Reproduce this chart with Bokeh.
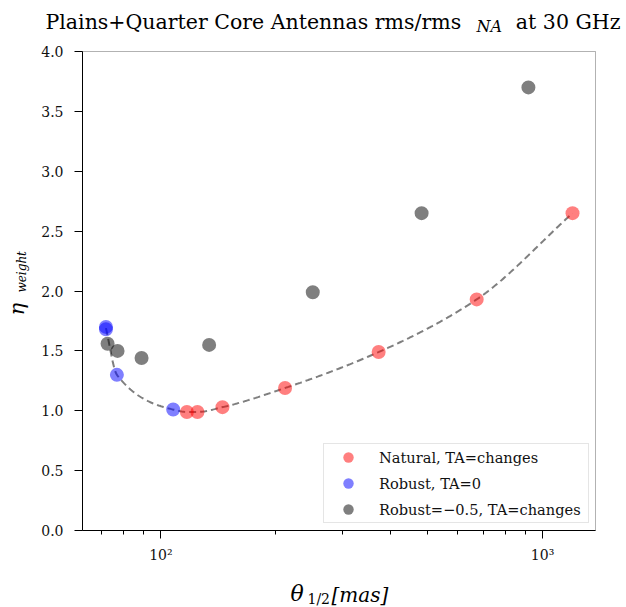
import numpy as np
from bokeh.plotting import figure
from bokeh.models import (Range1d, Label, Legend, LegendItem, SingleIntervalTicker,
                          PrintfTickFormatter, CustomJSTickFormatter, FixedTicker,
                          BoxAnnotation)
from bokeh.embed import file_html
from bokeh.resources import INLINE

# ---- data ----
natural_theta = [117.0, 124.7, 145.0, 211.5, 372.0, 672.0, 1198.0]
natural_eta = [0.99, 0.99, 1.03, 1.19, 1.49, 1.93, 2.65]

robust0_theta = [71.8, 71.8, 76.7, 107.7]
robust0_eta = [1.70, 1.68, 1.30, 1.01]

robustm05_theta = [72.5, 77.0, 89.0, 133.8, 250.0, 482.0, 918.0]
robustm05_eta = [1.56, 1.50, 1.44, 1.55, 1.99, 2.65, 3.70]

# axis limits of the plotted box
x_lim = (62.33, 1376.0)
y_lim = (0.0, 4.0)
x_major_ticks = [100, 1000]
x_minor_ticks = [70, 80, 90, 200, 300, 400, 500, 600, 700, 800, 900]
x_tick_labels = {"2": "10\u00b2", "3": "10\u00b3"}

FONT = "DejaVu Serif"
W, H = 626, 607
BOX_L, BOX_R, BOX_T, BOX_B = 82, 595, 51, 530   # pixel box of the axes


def pchip(xk, yk, xq):
    """Monotone piecewise cubic (Fritsch-Carlson) through the given points."""
    xk = np.asarray(xk, float)
    yk = np.asarray(yk, float)
    h = np.diff(xk)
    d = np.diff(yk) / h
    m = np.zeros_like(yk)
    for i in range(1, len(xk) - 1):
        if d[i - 1] * d[i] > 0:
            w1 = 2 * h[i] + h[i - 1]
            w2 = h[i] + 2 * h[i - 1]
            m[i] = (w1 + w2) / (w1 / d[i - 1] + w2 / d[i])
    m[0] = d[0]
    m[-1] = d[-1]
    idx = np.clip(np.searchsorted(xk, xq) - 1, 0, len(xk) - 2)
    t = (xq - xk[idx]) / h[idx]
    h00 = 2 * t**3 - 3 * t**2 + 1
    h10 = t**3 - 2 * t**2 + t
    h01 = -2 * t**3 + 3 * t**2
    h11 = t**3 - t**2
    return (h00 * yk[idx] + h10 * h[idx] * m[idx] + h01 * yk[idx + 1]
            + h11 * h[idx] * m[idx + 1])


# the frame spans the whole canvas; the axes are drawn at fixed locations so that
# titles and axis labels can be placed freely as real text
lx0, lx1 = np.log10(x_lim[0]), np.log10(x_lim[1])
ppd = (BOX_R - BOX_L) / (lx1 - lx0)
xr = (10 ** (lx0 - BOX_L / ppd), 10 ** (lx1 + (W - BOX_R) / ppd))
ppu = (BOX_B - BOX_T) / (y_lim[1] - y_lim[0])
yr = (y_lim[0] - (H - BOX_B) / ppu, y_lim[1] + BOX_T / ppu)

p = figure(width=W, height=H, x_axis_type="log",
           x_range=Range1d(*xr), y_range=Range1d(*yr),
           output_backend="svg", toolbar_location=None,
           min_border_left=0, min_border_right=0,
           min_border_top=0, min_border_bottom=0)
p.background_fill_color = "white"
p.border_fill_color = "white"
p.grid.visible = False
p.outline_line_color = None

p.add_layout(BoxAnnotation(left=x_lim[0], right=x_lim[1], bottom=y_lim[0], top=y_lim[1],
                           fill_color=None, line_color="black", line_width=1))

# smooth trend curve through the Natural + Robust TA=0 points
all_t = np.array(natural_theta + robust0_theta)
all_e = np.array(natural_eta + robust0_eta)
ut = np.unique(all_t)
ue = np.array([all_e[all_t == t].mean() for t in ut])
lx = np.log10(ut)
xs = np.linspace(lx.min(), lx.max(), 400)
p.line(10 ** xs, pchip(lx, ue, xs), line_color="black", line_alpha=0.5,
       line_width=2, line_dash="7 4")

r1 = p.scatter(natural_theta, natural_eta, size=14, fill_color="red", fill_alpha=0.5,
               line_color=None)
r2 = p.scatter(robust0_theta, robust0_eta, size=14, fill_color="blue", fill_alpha=0.5,
               line_color=None)
r3 = p.scatter(robustm05_theta, robustm05_eta, size=14, fill_color="black", fill_alpha=0.5,
               line_color=None)

legend = Legend(items=[
    LegendItem(label="Natural, TA=changes", renderers=[r1]),
    LegendItem(label="Robust, TA=0", renderers=[r2]),
    LegendItem(label="Robust=\u22120.5, TA=changes", renderers=[r3]),
], location=(323, H - 523))
legend.label_text_font = FONT
legend.label_text_font_size = "14.6px"
legend.label_text_color = "#111111"
legend.border_line_color = "#cccccc"
legend.border_line_width = 1
legend.margin = 0
legend.padding = dict(left=2, right=3, top=0, bottom=0)
legend.spacing = 0
legend.glyph_width = 44
legend.glyph_height = 26
legend.label_standoff = 9
legend.label_width = 206
p.add_layout(legend, "center")

# axes
p.xaxis.fixed_location = y_lim[0]
p.xaxis.bounds = x_lim
p.yaxis.fixed_location = x_lim[0]
p.yaxis.bounds = y_lim
p.xaxis.ticker = FixedTicker(ticks=x_major_ticks, minor_ticks=x_minor_ticks)
p.xaxis.formatter = CustomJSTickFormatter(
    args=dict(labels=x_tick_labels),
    code="const e = Math.round(Math.log10(tick)); return labels[String(e)] || ('10^' + e);")
p.yaxis.ticker = SingleIntervalTicker(interval=0.5, num_minor_ticks=0)
p.yaxis.formatter = PrintfTickFormatter(format="%.1f")
for ax in (p.xaxis, p.yaxis):
    ax.major_label_text_font = FONT
    ax.major_label_text_font_size = "14px"
    ax.major_label_text_color = "#111111"
    ax.axis_line_color = "black"
    ax.major_tick_line_color = "black"
    ax.minor_tick_line_color = "black"
    ax.major_tick_out = 8
    ax.major_tick_in = 0
    ax.minor_tick_out = 4
    ax.minor_tick_in = 0
p.xaxis.major_label_standoff = 8
p.yaxis.major_label_standoff = 11
p.yaxis.minor_tick_line_color = None


def lab(cx, cy, **kw):
    """Text placed at canvas pixel (cx, cy) (baseline point), y measured from top."""
    base = dict(x=cx, y=H - cy, x_units="screen", y_units="screen", text_font=FONT,
                text_baseline="alphabetic", text_color="#000000")
    base.update(kw)
    p.add_layout(Label(**base))


# title (composite text with subscript)
lab(45, 21, text="Plains+Quarter Core Antennas rms/rms",
    text_font_size="20.5px", text_align="left")
lab(476, 26, text="NA", text_font_style="italic",
    text_font_size="16px", text_align="left")
lab(620, 21, text="at 30 GHz", text_font_size="20.5px", text_align="right")

# x axis label
lab(290, 593, text="\u03b8", text_font_style="italic",
    text_font_size="22px", text_align="left")
lab(307, 598, text="1/2", text_font_size="14px", text_align="left")
lab(331, 594, text="[mas]", text_font_style="italic",
    text_font_size="20px", text_align="left")

# y axis label
lab(16, 315, angle=np.pi / 2, text="\u03b7", text_font_style="italic",
    text_font_size="21px", text_align="left")
lab(21, 292, angle=np.pi / 2, text="weight", text_font_style="italic",
    text_font_size="12px", text_align="left")

open("out.html", "w").write(file_html(p, INLINE))
